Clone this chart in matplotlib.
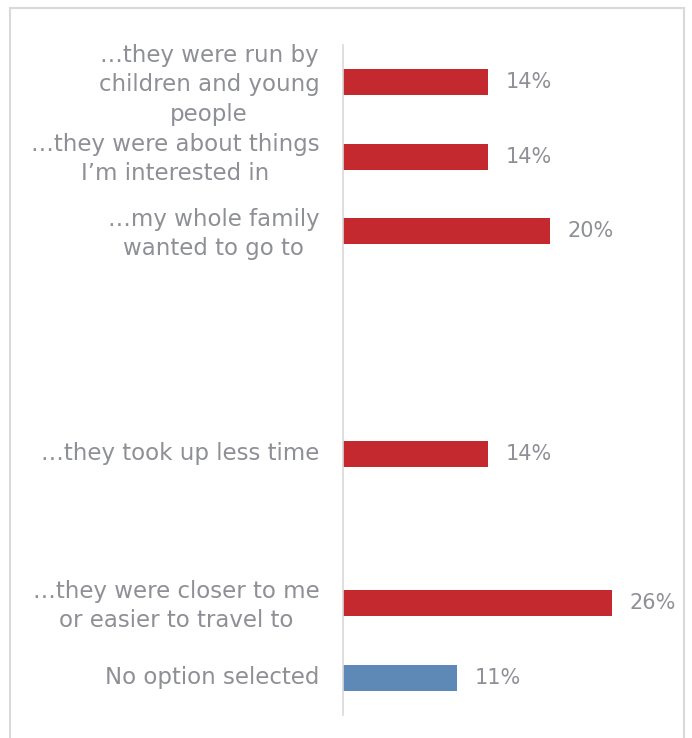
import numpy as np
import matplotlib
matplotlib.use("Agg")
import matplotlib.pyplot as plt
import matplotlib.transforms as mtransforms
from matplotlib.patches import Rectangle

# Reasons (top to bottom); empty strings are unused rows in the survey layout
categories = [
    "\u2026they were run by\nchildren and young\npeople",
    "\u2026they were about things\nI\u2019m interested in",
    "\u2026my whole family\nwanted to go to",
    "",
    "",
    "\u2026they took up less time",
    "",
    "\u2026they were closer to me\nor easier to travel to",
    "No option selected",
]
values = [14, 14, 20, np.nan, np.nan, 14, np.nan, 26, 11]
is_no_option = [False, False, False, False, False, False, False, False, True]

RED = "#C3292F"
BLUE = "#5E88B5"
TEXT = "#8E9096"
GRID = "#D9D9D9"

plt.rcParams["font.family"] = ["DejaVu Sans"]

W, H = 692, 738
fig = plt.figure(figsize=(W / 100, H / 100), dpi=100)

# axes in pixel geometry
left_px, right_px = 343, 653
top_px, bottom_px = 45, 715
ax = fig.add_axes([left_px / W, 1 - bottom_px / H,
                   (right_px - left_px) / W, (bottom_px - top_px) / H])

y = np.arange(len(categories))
colors = [BLUE if n else RED for n in is_no_option]
vals = np.array(values, dtype=float)
ax.barh(y, np.nan_to_num(vals), height=0.35, color=colors)
ax.set_ylim(len(categories) - 0.5, -0.5)
ax.set_xlim(0, 30)

for yi, v in zip(y, vals):
    if np.isnan(v):
        continue
    ax.annotate(f"{v:.0f}%", (v, yi), xytext=(13, 0), textcoords="offset points",
                va="center", ha="left", fontsize=15, color=TEXT)

ax.set_yticks(y)
ax.set_yticklabels(categories, fontsize=16.5, color=TEXT, multialignment="center",
                   linespacing=1.35)
ax.tick_params(axis="y", length=0, pad=17)
ax.set_xticks([])

# nudge category labels slightly upward
shift = mtransforms.ScaledTranslation(0, 3 / 100, fig.dpi_scale_trans)
for lbl in ax.get_yticklabels():
    lbl.set_transform(lbl.get_transform() + shift)

for s in ["top", "right", "bottom"]:
    ax.spines[s].set_visible(False)
ax.spines["left"].set_color(GRID)
ax.spines["left"].set_linewidth(1.2)

# outer chart frame, open at the bottom edge
fig.patches.append(Rectangle((10 / W, -0.05), (684 - 10) / W, 1 - 8 / H + 0.05,
                             transform=fig.transFigure, fill=False,
                             edgecolor=GRID, linewidth=1.5))

fig.savefig("out.png", dpi=100, facecolor="white")
